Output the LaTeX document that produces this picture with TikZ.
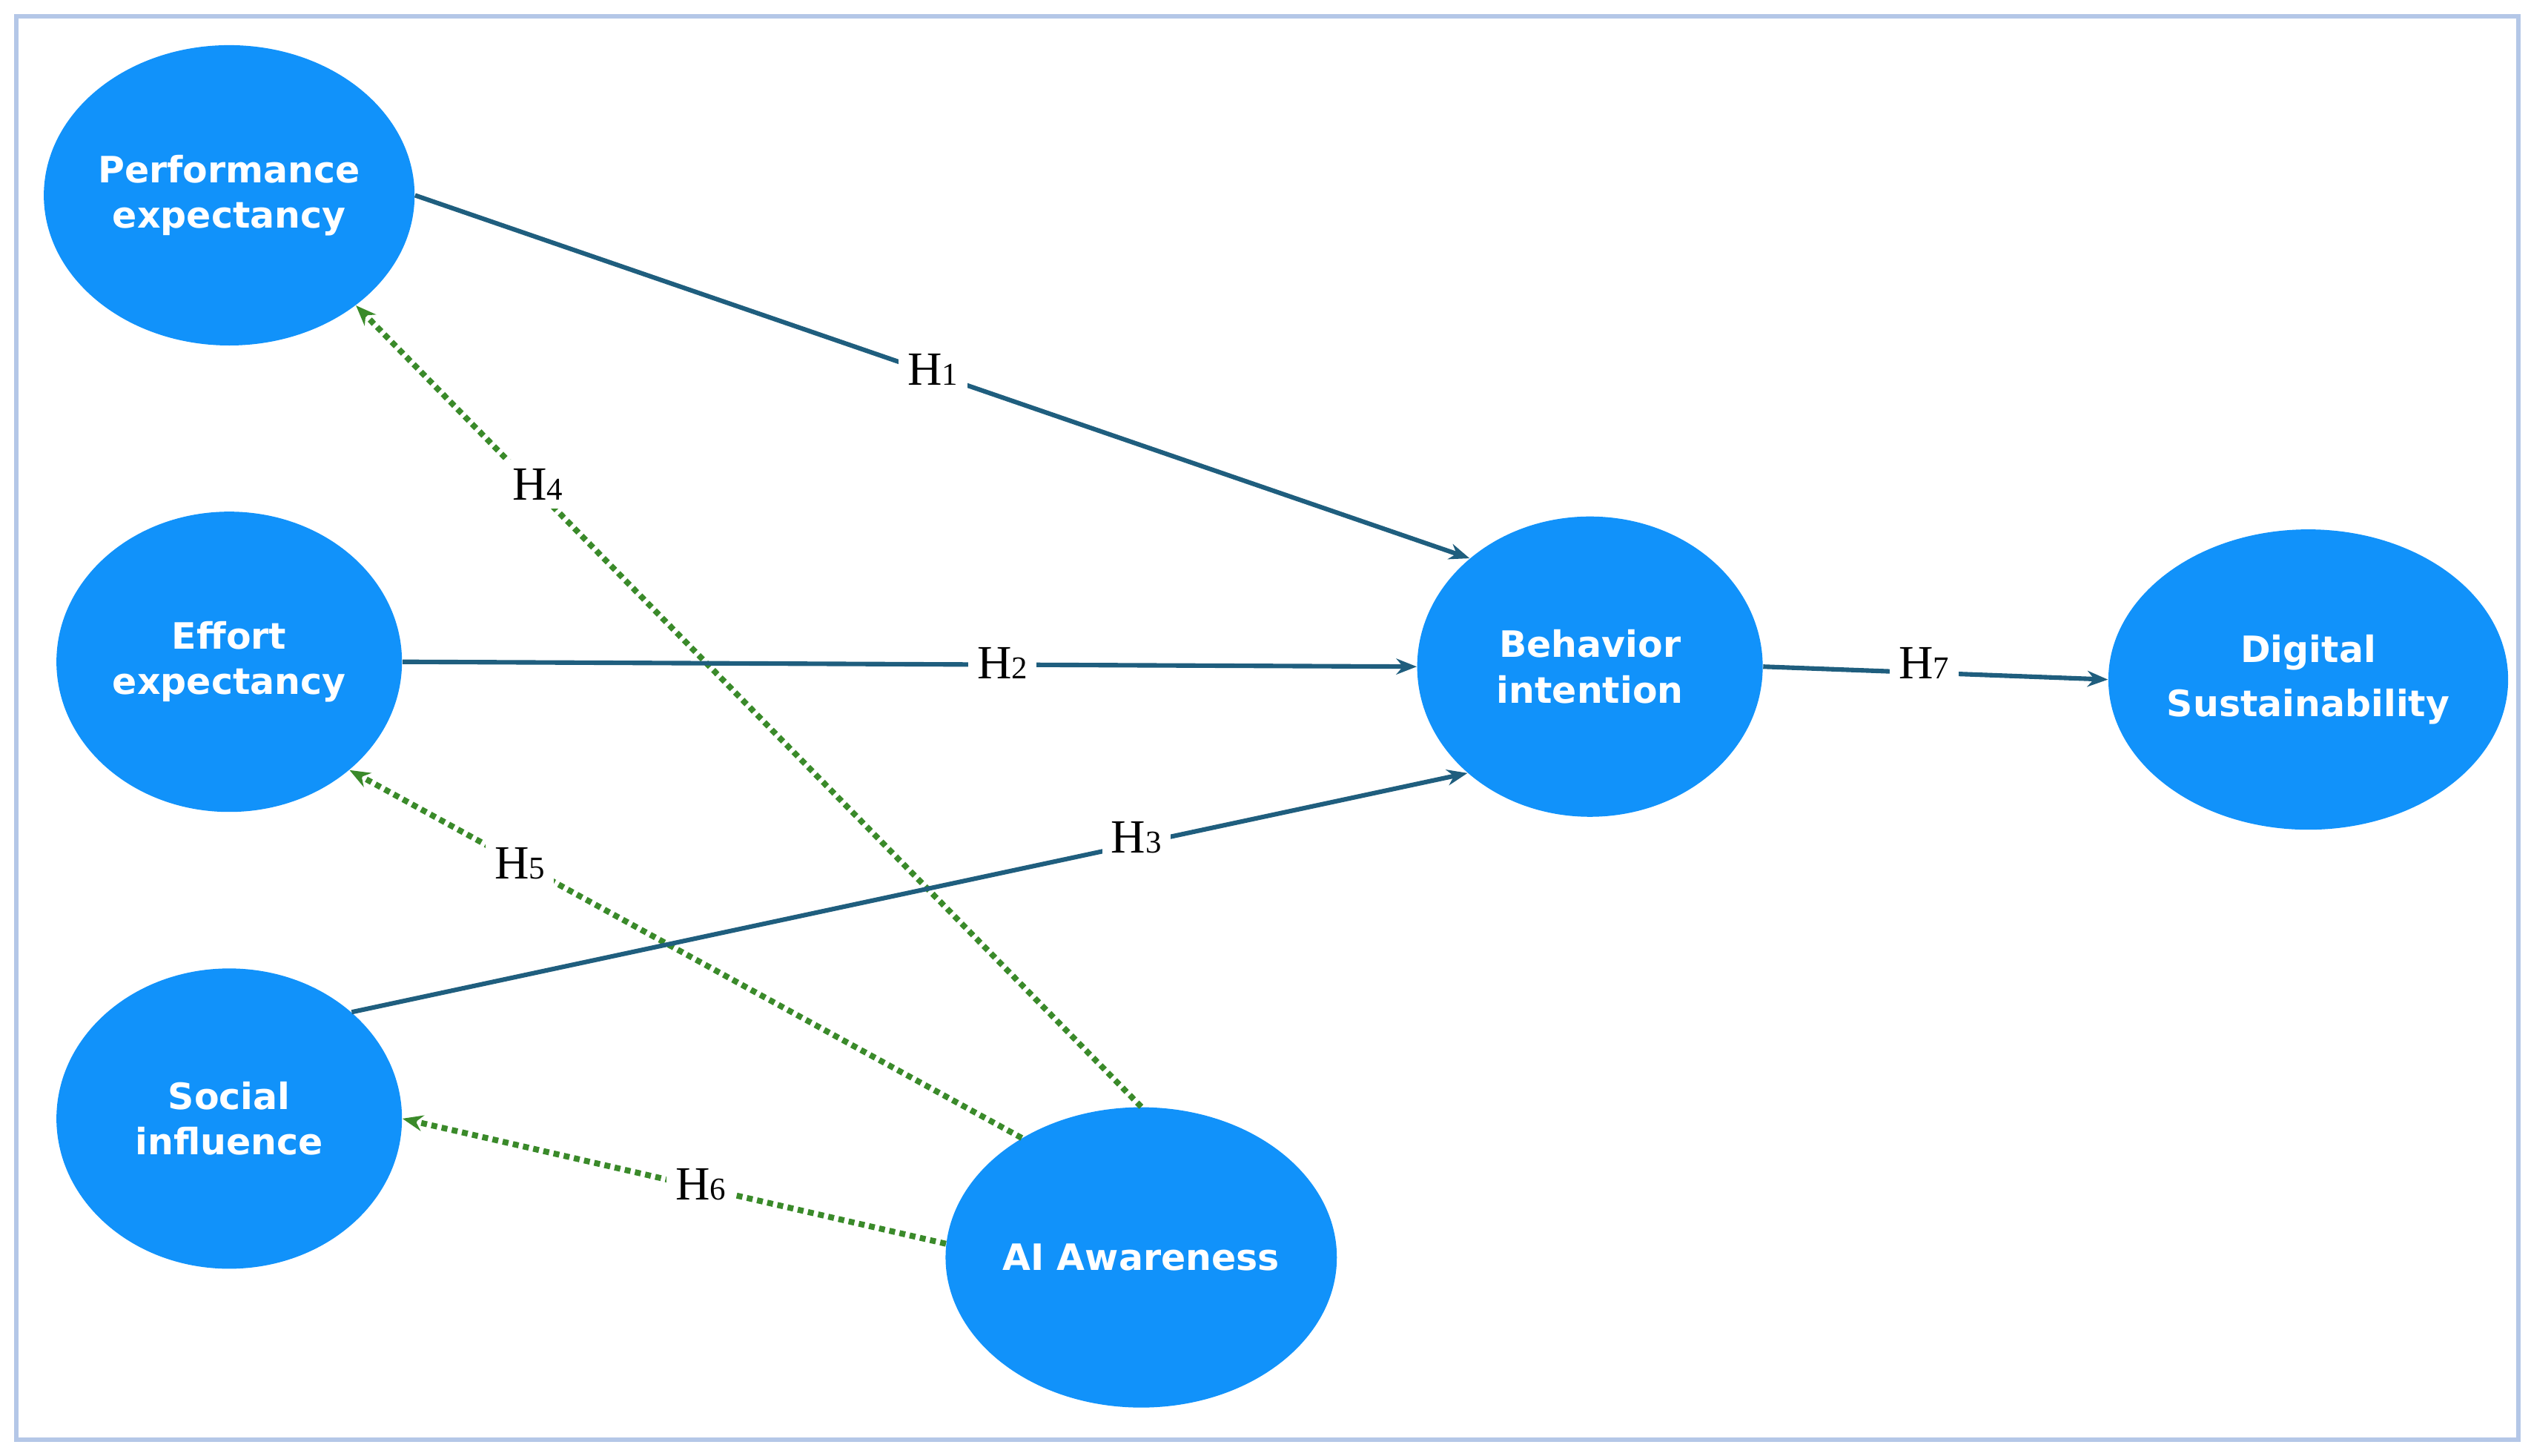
\documentclass[tikz,border=0pt]{standalone}
\usepackage{fontspec}
\setmainfont{Liberation Serif}
\newfontfamily\nodefont{DejaVu Sans}
\usetikzlibrary{arrows.meta,shapes.geometric}
\definecolor{nodeblue}{HTML}{1192FA}
\definecolor{frameblue}{HTML}{B4C7E7}
\definecolor{linkteal}{HTML}{1F5E7E}
\definecolor{hypgreen}{HTML}{3A8A2A}
\newcommand{\hyp}[1]{H{\fontsize{14}{14}\selectfont #1}}
\begin{document}
\begin{tikzpicture}[x=0.025cm,y=-0.025cm,
  construct/.style={ellipse,fill=nodeblue,draw=none,minimum width=5.35cm,minimum height=4.65cm,inner sep=0pt,
    text=white,align=center,font=\nodefont\bfseries\fontsize{16}{20}\selectfont},
  solidlink/.style={draw=linkteal,line width=2pt,-{Stealth[length=9pt,width=7pt]}},
  dotlink/.style={draw=hypgreen,line width=2.6pt,dotted,-{Stealth[length=9pt,width=7pt]}},
  lbl/.style={fill=white,inner sep=4pt,font=\fontsize{21}{24}\selectfont}]
\useasboundingbox (0,0) rectangle (1568,902);
\draw[frameblue,line width=2pt] (10,10) rectangle (1560,892);
\node[construct] (pe) at (142,121) {Performance\\expectancy};
\node[construct] (ee) at (142,410) {Effort\\expectancy};
\node[construct] (si) at (142,693) {Social\\influence};
\node[construct] (bi) at (985,413) {Behavior\\intention};
\node[construct] (ds) at (1430,421) {Digital\\[4pt]Sustainability};
\node[construct] (ai) at (707,779) {AI Awareness};
% dotted hypotheses
\draw[dotlink] (ai.north) -- (pe.-41);
\draw[dotlink] (ai.135) -- (ee.-42);
\draw[dotlink] (ai.176) -- (si.east);
% solid paths
\draw[solidlink] (pe.east) -- (bi.138);
\draw[solidlink] (ee.east) -- (bi.west);
\draw[solidlink] (si.41) -- (bi.221);
\draw[solidlink] (bi.east) -- (ds.west);
% labels
\node[lbl] (h1) at (578,229) {\hyp{1}};
\node[lbl] (h2) at (621,411) {\hyp{2}};
\node[lbl] (h3) at (704,519) {\hyp{3}};
\node[lbl] (h4) at (333,300) {\hyp{4}};
\node[lbl] (h5) at (322,535) {\hyp{5}};
\node[lbl] (h6) at (434,734) {\hyp{6}};
\node[lbl] (h7) at (1192,411) {\hyp{7}};
\end{tikzpicture}
\end{document}
